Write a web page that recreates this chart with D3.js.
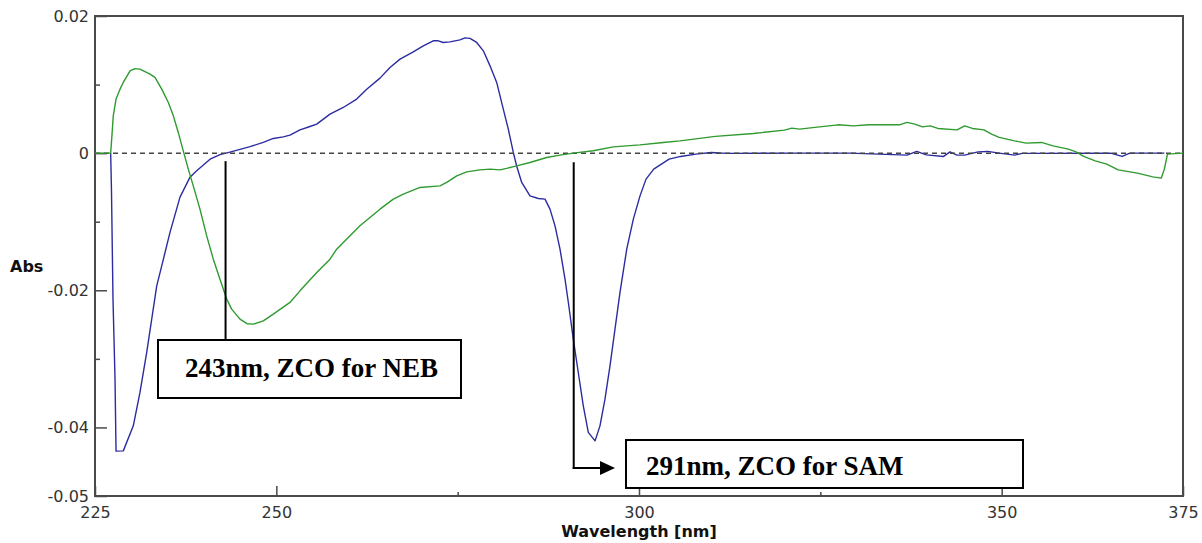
<!DOCTYPE html>
<html>
<head>
<meta charset="utf-8">
<script src="https://cdn.jsdelivr.net/npm/d3@7"></script>
<style>
  html, body { margin: 0; padding: 0; background: #fff; }
  svg { display: block; }
</style>
</head>
<body>
<svg id="chart" width="1202" height="543"></svg>
<script>
// Wavelength (nm) and absorbance readings for the two derivative spectra
const blueWl = [227.16, 227.27, 227.48, 227.76, 227.9, 228.9, 230.28, 231.2, 232.13, 232.82, 233.51, 234.2, 235.34, 236.72, 238.1, 239.02, 240.86, 242.24, 243.61, 246.37, 248.2, 249.58, 250.96, 251.88, 253.26, 254.64, 255.57, 257.4, 259.23, 261.08, 262.46, 264.29, 265.67, 267.05, 268.88, 270.26, 271.64, 272.33, 273.02, 273.94, 275.32, 276.01, 276.7, 277.62, 278.54, 279.46, 280.38, 281.29, 281.98, 282.67, 283.14, 283.83, 284.97, 286.12, 287.04, 287.73, 288.42, 289.11, 289.8, 290.26, 290.94, 291.63, 292.32, 293.01, 293.94, 294.62, 295.31, 296.0, 296.69, 297.38, 298.31, 299.22, 300.14, 300.97, 302.03, 304.15, 305.74, 307.86, 309.97, 312.09, 322.2, 329.09, 336.95, 338.29, 339.61, 341.99, 342.88, 343.84, 344.9, 346.75, 348.07, 349.66, 351.78, 352.84, 365.02, 366.61, 367.67, 372.43];
const blueAbs = [0, -0.00525, -0.02129, -0.03296, -0.04346, -0.04342, -0.03977, -0.0349, -0.02906, -0.02421, -0.01935, -0.01644, -0.01156, -0.00642, -0.0035, -0.00258, -0.00088, -0.00022, 0.00015, 0.00095, 0.00156, 0.00214, 0.00238, 0.00263, 0.0034, 0.00389, 0.00423, 0.00569, 0.00666, 0.00788, 0.00933, 0.01094, 0.0125, 0.01371, 0.01477, 0.01565, 0.01638, 0.01638, 0.01614, 0.01623, 0.01652, 0.01681, 0.01673, 0.01614, 0.01492, 0.01273, 0.01031, 0.00642, 0.0035, 0.0001, -0.0019, -0.00427, -0.00623, -0.00661, -0.00671, -0.00817, -0.0106, -0.014, -0.01838, -0.02178, -0.02713, -0.03199, -0.03685, -0.04073, -0.04196, -0.03977, -0.03588, -0.03102, -0.02567, -0.02031, -0.014, -0.00963, -0.00623, -0.00379, -0.00233, -0.00088, -0.00048, -0.00015, 0.0001, -0.00004, 0, 0, -0.00029, 0.00025, -0.00025, -0.00048, 0.00019, -0.00029, -0.00029, 0.00019, 0.00025, 0, -0.00029, -0.00004, 0, -0.00048, 0, 0];

const greenWl = [225, 227.16, 227.3, 227.52, 227.9, 228.45, 228.9, 229.83, 230.51, 231.2, 232.58, 233.27, 234.2, 235.11, 235.8, 236.48, 237.17, 237.86, 238.55, 239.47, 240.4, 241.31, 242.23, 243.16, 243.84, 244.99, 245.96, 246.83, 248.2, 249.58, 251.88, 253.26, 255.57, 257.4, 258.32, 260.16, 261.53, 262.91, 264.29, 266.13, 267.51, 269.81, 272.56, 273.49, 274.87, 276.25, 278.08, 279.46, 280.84, 281.76, 283.14, 284.97, 287.27, 289.11, 290.94, 293.7, 296.46, 300.14, 303.35, 305.66, 310.51, 315.8, 320.04, 321.08, 322.14, 324.26, 327.44, 329.56, 331.67, 335.9, 336.96, 338.02, 339.09, 340.14, 341.2, 343.84, 344.9, 345.97, 347.55, 348.61, 349.66, 351.78, 353.37, 355.49, 357.08, 359.19, 360.25, 361.31, 362.9, 364.48, 366.07, 368.72, 370.84, 372.0, 372.43, 372.86, 375];
const greenAbs = [0, 0, 0.00204, 0.00544, 0.00788, 0.00933, 0.01031, 0.012, 0.01232, 0.01225, 0.01152, 0.01104, 0.00933, 0.00739, 0.00544, 0.00302, 0.00034, -0.00233, -0.00477, -0.00817, -0.01206, -0.01546, -0.01838, -0.02129, -0.02275, -0.02421, -0.02487, -0.02494, -0.02446, -0.02348, -0.02177, -0.02008, -0.0174, -0.01546, -0.014, -0.01206, -0.0106, -0.00938, -0.00817, -0.00671, -0.00598, -0.005, -0.00477, -0.00427, -0.00331, -0.00273, -0.00244, -0.00233, -0.00244, -0.00223, -0.00185, -0.00136, -0.00063, -0.00029, 0, 0.00034, 0.00092, 0.00121, 0.00156, 0.00179, 0.00244, 0.00287, 0.00335, 0.00365, 0.0035, 0.00375, 0.00413, 0.00398, 0.00413, 0.00413, 0.00448, 0.00423, 0.00383, 0.00398, 0.0036, 0.0034, 0.00398, 0.0036, 0.0034, 0.00277, 0.00229, 0.00179, 0.00146, 0.00156, 0.00106, 0.00058, 0.00019, -0.00048, -0.00112, -0.0016, -0.00244, -0.00292, -0.00346, -0.00365, -0.00233, -0.00015, 0];

// Axis ticks and their labels
const xTickValues = [225, 250, 300, 350, 375];
const xTickLabels = ["225", "250", "300", "350", "375"];
const xMinorTicks = [275, 325];
const yTickValues = [0.02, 0, -0.02, -0.04, -0.05];
const yTickLabels = ["0.02", "0", "-0.02", "-0.04", "-0.05"];
const yMinorTicks = [0.01, -0.01, -0.03];

// Zero-crossing wavelengths called out on the chart
const zcoWavelengths = [243, 291];
const zcoLabels = ["243nm, ZCO for NEB", "291nm, ZCO for SAM"];

const W = 1202, H = 543;
const margin = { left: 95, top: 16, right: 1202 - 1183, bottom: 543 - 496 };
const svg = d3.select("#chart");

const x = d3.scaleLinear().domain([225, 375]).range([margin.left, W - margin.right]);
const y = d3.scaleLinear().domain([-0.05, 0.02]).range([H - margin.bottom, margin.top]);

const frameColor = "#4a4a4a";
const tickFont = "DejaVu Sans, Verdana, sans-serif";

// Y axis: labelled major ticks + short minor ticks, pointing into the plot
const yAxis = d3.axisLeft(y)
  .tickValues(yTickValues)
  .tickFormat((d, i) => yTickLabels[i])
  .tickSize(-12)
  .tickPadding(6);
const gy = svg.append("g").attr("transform", `translate(${margin.left},0)`).call(yAxis);
gy.select(".domain").remove();
gy.selectAll(".tick line").attr("stroke", frameColor).attr("stroke-width", 1.5);
gy.selectAll(".tick text")
  .attr("font-family", tickFont).attr("font-size", 16).attr("fill", "#333");

const gyMinor = svg.append("g").attr("transform", `translate(${margin.left},0)`)
  .call(d3.axisLeft(y).tickValues(yMinorTicks).tickFormat("").tickSize(-5));
gyMinor.select(".domain").remove();
gyMinor.selectAll(".tick line").attr("stroke", frameColor).attr("stroke-width", 1.5);

// X axis
const xAxis = d3.axisBottom(x)
  .tickValues(xTickValues)
  .tickFormat((d, i) => xTickLabels[i])
  .tickSize(-10)
  .tickPadding(11);
const gx = svg.append("g").attr("transform", `translate(0,${H - margin.bottom})`).call(xAxis);
gx.select(".domain").remove();
gx.selectAll(".tick line").attr("stroke", frameColor).attr("stroke-width", 1.5);
gx.selectAll(".tick text")
  .attr("font-family", tickFont).attr("font-size", 16).attr("fill", "#333");

const gxMinor = svg.append("g").attr("transform", `translate(0,${H - margin.bottom})`)
  .call(d3.axisBottom(x).tickValues(xMinorTicks).tickFormat("").tickSize(-4));
gxMinor.select(".domain").remove();
gxMinor.selectAll(".tick line").attr("stroke", frameColor).attr("stroke-width", 1.5);

// Plot frame
svg.append("rect")
  .attr("x", margin.left).attr("y", margin.top)
  .attr("width", W - margin.left - margin.right)
  .attr("height", H - margin.top - margin.bottom)
  .attr("fill", "none").attr("stroke", frameColor).attr("stroke-width", 2);

// Axis titles
svg.append("text")
  .attr("x", 10).attr("y", 272)
  .attr("font-family", tickFont).attr("font-weight", "bold").attr("font-size", 16)
  .attr("fill", "#111").text("Abs");
svg.append("text")
  .attr("x", (x.range()[0] + x.range()[1]) / 2).attr("y", 537)
  .attr("text-anchor", "middle")
  .attr("font-family", tickFont).attr("font-weight", "bold").attr("font-size", 16)
  .attr("fill", "#111").text("Wavelength [nm]");

// Spectra
const line = d3.line().x(d => x(d[0])).y(d => y(d[1]));
const bluePts = blueWl.map((w, i) => [w, blueAbs[i]]);
const greenPts = greenWl.map((w, i) => [w, greenAbs[i]]);

svg.append("path").datum(bluePts).attr("d", line)
  .attr("fill", "none").attr("stroke", "#2c2ca0").attr("stroke-width", 1.4)
  .attr("stroke-linejoin", "round");

// Zero baseline
svg.append("line")
  .attr("x1", x(225)).attr("x2", x(375)).attr("y1", y(0)).attr("y2", y(0))
  .attr("stroke", "#444").attr("stroke-width", 1.5).attr("stroke-dasharray", "5,4");

svg.append("path").datum(greenPts).attr("d", line)
  .attr("fill", "none").attr("stroke", "#2f9a2f").attr("stroke-width", 1.4)
  .attr("stroke-linejoin", "round");

// Zero-crossing callouts
const serif = "Liberation Serif, Times New Roman, serif";

// NEB: vertical leader down to a labelled box
const xNeb = x(zcoWavelengths[0]);
svg.append("line")
  .attr("x1", xNeb).attr("x2", xNeb).attr("y1", y(0) + 8).attr("y2", 340)
  .attr("stroke", "#000").attr("stroke-width", 2);
svg.append("rect")
  .attr("x", 158).attr("y", 340).attr("width", 303).attr("height", 58)
  .attr("fill", "#fff").attr("stroke", "#000").attr("stroke-width", 2);
svg.append("text")
  .attr("x", 185).attr("y", 377)
  .attr("font-family", serif).attr("font-weight", "bold").attr("font-size", 27)
  .attr("fill", "#000").text(zcoLabels[0]);

// SAM: vertical leader with an arrow pointing to its box
const xSam = x(zcoWavelengths[1]);
const arrowY = 468;
svg.append("line")
  .attr("x1", xSam).attr("x2", xSam).attr("y1", y(0) + 9).attr("y2", arrowY + 1)
  .attr("stroke", "#000").attr("stroke-width", 2);
svg.append("line")
  .attr("x1", xSam - 1).attr("x2", 602).attr("y1", arrowY).attr("y2", arrowY)
  .attr("stroke", "#000").attr("stroke-width", 2);
svg.append("path")
  .attr("d", `M600,${arrowY - 7}L615,${arrowY}L600,${arrowY + 7}Z`)
  .attr("fill", "#000");
svg.append("rect")
  .attr("x", 626).attr("y", 440).attr("width", 397).attr("height", 48)
  .attr("fill", "#fff").attr("stroke", "#000").attr("stroke-width", 2);
svg.append("text")
  .attr("x", 646).attr("y", 475)
  .attr("font-family", serif).attr("font-weight", "bold").attr("font-size", 27)
  .attr("fill", "#000").text(zcoLabels[1]);
</script>
</body>
</html>
